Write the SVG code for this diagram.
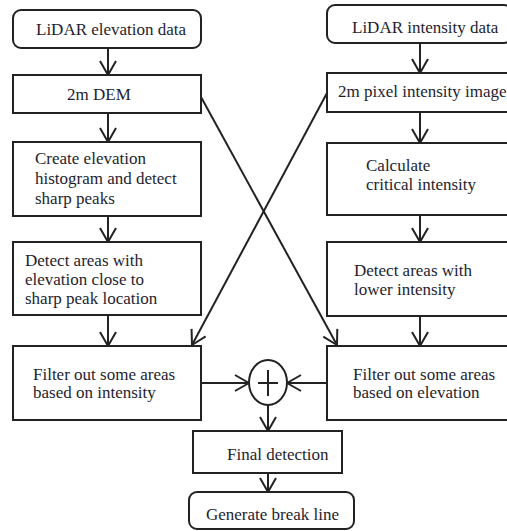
<svg xmlns="http://www.w3.org/2000/svg" width="507" height="531" viewBox="0 0 507 531">
<style>
.box{fill:#fff;stroke:#222;stroke-width:2}
.t{font-size:17px;fill:#1e1e30}
.c{fill:none;stroke:#222;stroke-width:2}
</style>
<defs>
<marker id="arr" markerUnits="userSpaceOnUse" viewBox="-16 -10 18 20" refX="0" refY="0" markerWidth="18" markerHeight="20" orient="auto">
<path d="M-14,-8 L0,0 L-14,8" fill="none" stroke="#222" stroke-width="2" stroke-linejoin="round"/>
</marker>
</defs>
<rect width="507" height="531" fill="#fff"/>
<g id="connectors" class="c" marker-end="url(#arr)">
<line x1="108" y1="48" x2="108" y2="75"/>
<line x1="108" y1="113" x2="108" y2="142"/>
<line x1="108" y1="216" x2="108" y2="242"/>
<line x1="108" y1="315" x2="108" y2="346"/>
<line x1="420" y1="43" x2="420" y2="73"/>
<line x1="420" y1="112" x2="420" y2="143"/>
<line x1="420" y1="215" x2="420" y2="242"/>
<line x1="420" y1="316" x2="420" y2="346"/>
<line x1="201" y1="97" x2="337" y2="345"/>
<line x1="327" y1="93" x2="192" y2="345"/>
<line x1="201" y1="383" x2="249" y2="383"/>
<line x1="328" y1="383" x2="287" y2="383"/>
<line x1="268" y1="405" x2="268" y2="431"/>
<line x1="268" y1="473" x2="268" y2="492"/>
</g>
<g font-family="Liberation Serif, Times New Roman, serif">
<g id="n-lidar-elev"><rect class="box" x="13" y="10" width="188" height="38" rx="8"/><text class="t" x="36" y="35">LiDAR elevation data</text></g>
<g id="n-dem"><rect class="box" x="13" y="75" width="188" height="38"/><text class="t" x="67" y="100">2m DEM</text></g>
<g id="n-hist"><rect class="box" x="13" y="142" width="188" height="74"/><text class="t" x="35" y="164">Create elevation</text><text class="t" x="35" y="184">histogram and detect</text><text class="t" x="35" y="204">sharp peaks</text></g>
<g id="n-detect-elev"><rect class="box" x="13" y="242" width="188" height="73"/><text class="t" x="25" y="266">Detect areas with</text><text class="t" x="25" y="285">elevation close to</text><text class="t" x="25" y="304">sharp peak location</text></g>
<g id="n-filter-int"><rect class="box" x="13" y="346" width="188" height="74"/><text class="t" x="33" y="380">Filter out some areas</text><text class="t" x="33" y="398">based on intensity</text></g>
<g id="n-lidar-int"><rect class="box" x="327" y="5" width="185" height="38" rx="8"/><text class="t" x="352" y="33">LiDAR intensity data</text></g>
<g id="n-pixel"><rect class="box" x="327" y="73" width="185" height="39"/><text class="t" x="338" y="97">2m pixel intensity image</text></g>
<g id="n-critical"><rect class="box" x="327" y="143" width="185" height="72"/><text class="t" x="366" y="171">Calculate</text><text class="t" x="366" y="190">critical intensity</text></g>
<g id="n-detect-int"><rect class="box" x="327" y="242" width="185" height="74"/><text class="t" x="354" y="276">Detect areas with</text><text class="t" x="354" y="295">lower intensity</text></g>
<g id="n-filter-elev"><rect class="box" x="327" y="346" width="185" height="74"/><text class="t" x="353" y="380">Filter out some areas</text><text class="t" x="353" y="398">based on elevation</text></g>
<g id="n-plus"><ellipse class="box" cx="268" cy="382.5" rx="19" ry="22.5"/><path class="c" d="M258,383 H278 M268,370 V396"/></g>
<g id="n-final"><rect class="box" x="193" y="431" width="149" height="42"/><text class="t" x="227" y="460">Final detection</text></g>
<g id="n-break"><rect class="box" x="189" y="492" width="165" height="37" rx="8"/><text class="t" x="206" y="520">Generate break line</text></g>
</g>
</svg>
